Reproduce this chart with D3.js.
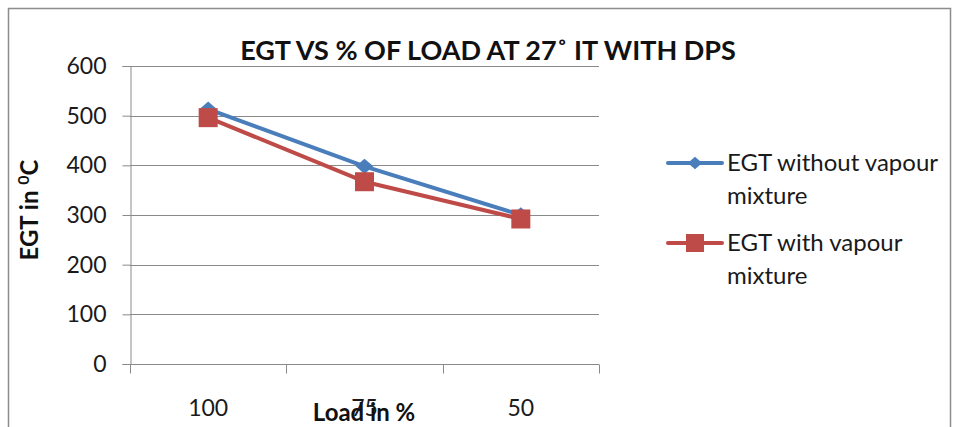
<!DOCTYPE html>
<html>
<head>
<meta charset="utf-8">
<script src="https://cdn.jsdelivr.net/npm/d3@7"></script>
<style>
  body { margin: 0; background: #fff; }
  svg { display: block; font-family: Lato, "Open Sans", sans-serif; }
</style>
</head>
<body>
<svg id="chart" width="959" height="427"></svg>
<script>
// Load categories and exhaust gas temperatures (°C)
const categories = ["100", "75", "50"];
const egtWithout = [513, 398, 300];
const egtWith = [496, 367, 292];
const yTicks = [0, 100, 200, 300, 400, 500, 600];
const seriesNames = ["EGT without vapour mixture", "EGT with vapour mixture"];

const svg = d3.select("#chart");
const plot = { left: 130, right: 599, top: 66, bottom: 364 };

// outer chart frame
svg.append("rect")
  .attr("x", 8.5).attr("y", 8.5)
  .attr("width", 942).attr("height", 430)
  .attr("fill", "none").attr("stroke", "#8c8c8c").attr("stroke-width", 1.5);

const x = d3.scaleBand().domain(categories).range([plot.left, plot.right]);
const y = d3.scaleLinear().domain([0, 600]).range([plot.bottom, plot.top]);

// horizontal gridlines
svg.append("g").selectAll("line").data(yTicks.filter(d => d > 0)).join("line")
  .attr("x1", plot.left).attr("x2", plot.right)
  .attr("y1", d => Math.round(y(d)) + 0.5).attr("y2", d => Math.round(y(d)) + 0.5)
  .attr("stroke", "#8a8a8a").attr("stroke-width", 1);

// y axis
const yAxis = svg.append("g")
  .attr("transform", `translate(${plot.left + 0.5},0)`)
  .call(d3.axisLeft(y).tickValues(yTicks).tickSize(8).tickPadding(16));
yAxis.select(".domain").attr("stroke", "#8a8a8a");
yAxis.selectAll(".tick line").attr("stroke", "#8a8a8a");
yAxis.selectAll(".tick text")
  .attr("font-size", 23).attr("fill", "#1a1a1a")
  .attr("font-family", "Lato, sans-serif");

// x axis with ticks at category boundaries
const xAxisG = svg.append("g").attr("transform", `translate(0,${Math.round(plot.bottom) + 0.5})`);
xAxisG.append("line")
  .attr("x1", plot.left).attr("x2", plot.right)
  .attr("stroke", "#8a8a8a");
const bounds = categories.map(c => x(c)).concat([plot.right]);
xAxisG.selectAll("line.tk").data(bounds).join("line").attr("class", "tk")
  .attr("x1", d => Math.round(d) + 0.5).attr("x2", d => Math.round(d) + 0.5)
  .attr("y1", 0).attr("y2", 9)
  .attr("stroke", "#8a8a8a");
xAxisG.selectAll("text").data(categories).join("text")
  .attr("x", d => x(d) + x.bandwidth() / 2)
  .attr("y", 51)
  .attr("text-anchor", "middle")
  .attr("font-size", 23).attr("fill", "#1a1a1a")
  .text(d => d);

// series lines and markers
const cx = d => x(d) + x.bandwidth() / 2;
const line = d3.line().x((d, i) => cx(categories[i])).y(d => y(d));
const colors = ["#4a7ebb", "#be4b48"];

svg.append("path").datum(egtWithout)
  .attr("d", line).attr("fill", "none")
  .attr("stroke", colors[0]).attr("stroke-width", 4).attr("stroke-linejoin", "round");
svg.append("g").selectAll("path").data(egtWithout).join("path")
  .attr("d", d3.symbol(d3.symbolDiamond2, 150)())
  .attr("transform", (d, i) => `translate(${cx(categories[i])},${y(d)}) scale(1.15,1)`)
  .attr("fill", colors[0]);

svg.append("path").datum(egtWith)
  .attr("d", line).attr("fill", "none")
  .attr("stroke", colors[1]).attr("stroke-width", 4).attr("stroke-linejoin", "round");
svg.append("g").selectAll("rect").data(egtWith).join("rect")
  .attr("x", (d, i) => cx(categories[i]) - 9.5)
  .attr("y", d => y(d) - 9.5)
  .attr("width", 19).attr("height", 19)
  .attr("fill", colors[1]);

// title
svg.append("text")
  .attr("x", 488).attr("y", 60)
  .attr("text-anchor", "middle")
  .attr("font-size", 27).attr("font-weight", "bold").attr("fill", "#111")
  .text("EGT VS % OF LOAD AT 27˚ IT WITH DPS");

// y axis title
const yt = svg.append("text")
  .attr("transform", "translate(38,210) rotate(-90)")
  .attr("text-anchor", "middle")
  .attr("font-size", 24).attr("font-weight", "bold").attr("fill", "#111");
yt.append("tspan").text("EGT in ");
yt.append("tspan").attr("font-size", 16).attr("dy", -9).text("0");
yt.append("tspan").attr("dy", 9).text("C");

// x axis title
svg.append("text")
  .attr("x", 364).attr("y", 421)
  .attr("text-anchor", "middle")
  .attr("font-size", 24).attr("font-weight", "bold").attr("fill", "#111")
  .text("Load in %");

// legend
const legend = svg.append("g");
const legendRows = [
  { name: seriesNames[0], lines: ["EGT without vapour", "mixture"], y: 163, color: colors[0], shape: "diamond" },
  { name: seriesNames[1], lines: ["EGT with vapour", "mixture"], y: 243, color: colors[1], shape: "square" }
];
legendRows.forEach(r => {
  const g = legend.append("g");
  g.append("line").attr("x1", 668).attr("x2", 722).attr("y1", r.y).attr("y2", r.y)
    .attr("stroke", r.color).attr("stroke-width", 4).attr("stroke-linecap", "round");
  if (r.shape === "diamond") {
    g.append("path").attr("d", d3.symbol(d3.symbolDiamond2, 100)())
      .attr("transform", `translate(695,${r.y}) scale(1.15,1)`).attr("fill", r.color);
  } else {
    g.append("rect").attr("x", 686).attr("y", r.y - 9).attr("width", 18).attr("height", 18).attr("fill", r.color);
  }
  g.selectAll("text").data(r.lines).join("text")
    .attr("x", 727).attr("y", (d, i) => r.y + 8 + i * 33)
    .attr("font-size", 24).attr("fill", "#1a1a1a")
    .text(d => d);
});
</script>
</body>
</html>
